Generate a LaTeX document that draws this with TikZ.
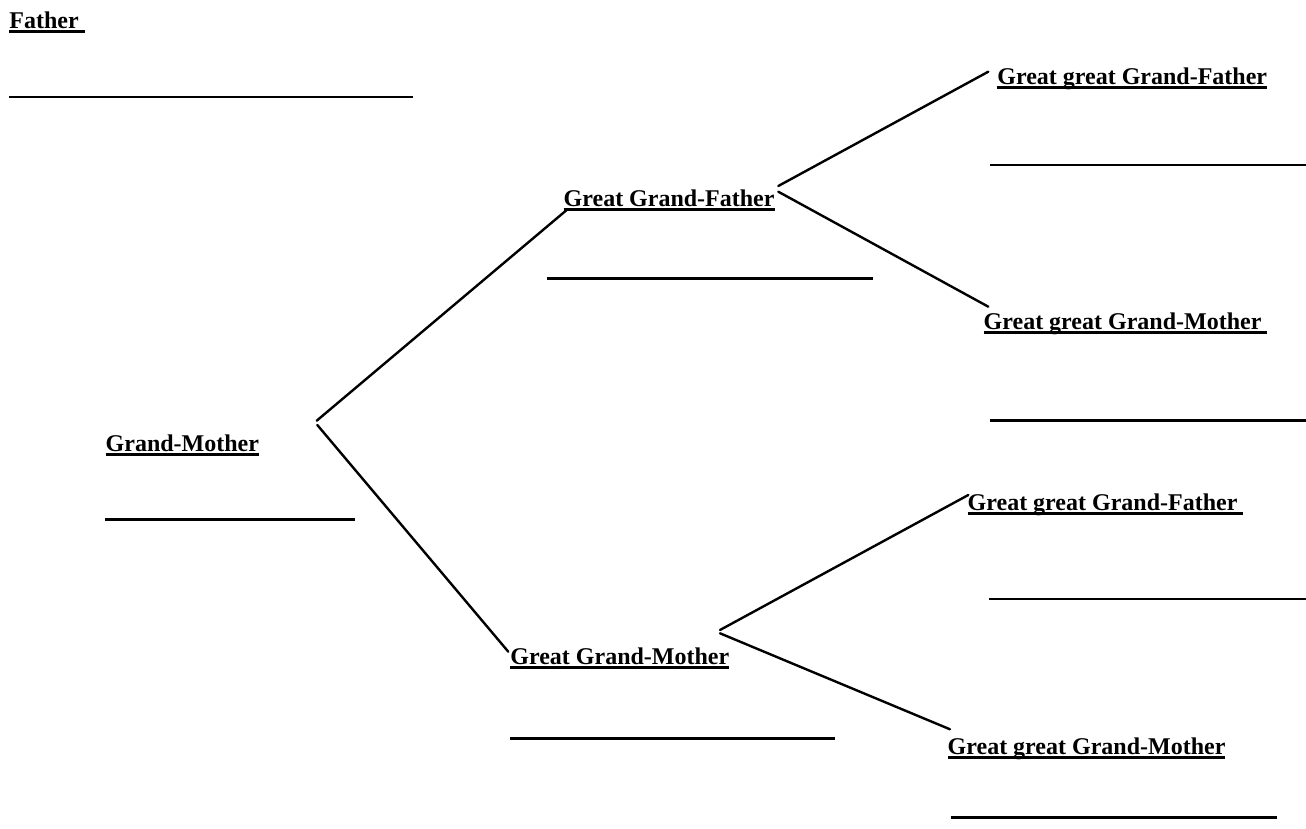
\documentclass[tikz,border=0pt]{standalone}
\usepackage{fontspec}
\setmainfont{Liberation Serif}
\newcommand\ulbox[1]{\setbox0\hbox{#1}\rlap{\rule[-2.25pt]{\wd0}{1.4pt}}\box0}
\begin{document}
\begin{tikzpicture}[x=0.5pt,y=-0.5pt,
  lbl/.style={anchor=base west, inner sep=0pt, font=\fontsize{12pt}{14pt}\selectfont\bfseries},
  conn/.style={line width=1.2pt, line cap=round},
  blank/.style={line width=1.4pt}]
\useasboundingbox (0,0) rectangle (1306,829);

% labels
\node[lbl] (father) at (9,28.5) {\ulbox{Father\ }};
\node[lbl] (gm)     at (105.3,451) {\ulbox{Grand-Mother}};
\node[lbl] (ggf)    at (563.3,206.3) {\ulbox{Great Grand-Father}};
\node[lbl] (ggm)    at (510,664.7) {\ulbox{Great Grand-Mother}};
\node[lbl] (gggfA)  at (997,84.3) {\ulbox{Great great Grand-Father}};
\node[lbl] (gggmA)  at (983.3,329.7) {\ulbox{Great great Grand-Mother\ }};
\node[lbl] (gggfB)  at (967.3,510.3) {\ulbox{Great great Grand-Father\ }};
\node[lbl] (gggmB)  at (947.3,754.3) {\ulbox{Great great Grand-Mother}};

% blank lines
\draw[blank] (9,97) -- (413,97);
\draw[blank] (105.3,519.3) -- (355.3,519.3);
\draw[blank] (547.3,278.7) -- (873.3,278.7);
\draw[blank] (510,738.3) -- (835,738.3);
\draw[blank] (990,165) -- (1306,165);
\draw[blank] (990,420.7) -- (1306,420.7);
\draw[blank] (989.3,599) -- (1306,599);
\draw[blank] (950.7,817.7) -- (1276.7,817.7);

% connector points
\coordinate (gmUp) at (316.7,420.7);
\coordinate (gmDn) at (317.3,425);
\coordinate (ggfIn) at (566.7,210);
\coordinate (ggmIn) at (508.3,651.7);
\coordinate (ggfUp) at (778.3,186);
\coordinate (ggfDn) at (778.3,191.7);
\coordinate (gggfAIn) at (988.3,71.7);
\coordinate (gggmAIn) at (988.3,306.7);
\coordinate (ggmUp) at (720,630);
\coordinate (ggmDn) at (720,633.3);
\coordinate (gggfBIn) at (968.3,495);
\coordinate (gggmBIn) at (950,729.3);

\draw[conn] (gmUp) -- (ggfIn);
\draw[conn] (gmDn) -- (ggmIn);
\draw[conn] (ggfUp) -- (gggfAIn);
\draw[conn] (ggfDn) -- (gggmAIn);
\draw[conn] (ggmUp) -- (gggfBIn);
\draw[conn] (ggmDn) -- (gggmBIn);
\end{tikzpicture}
\end{document}
